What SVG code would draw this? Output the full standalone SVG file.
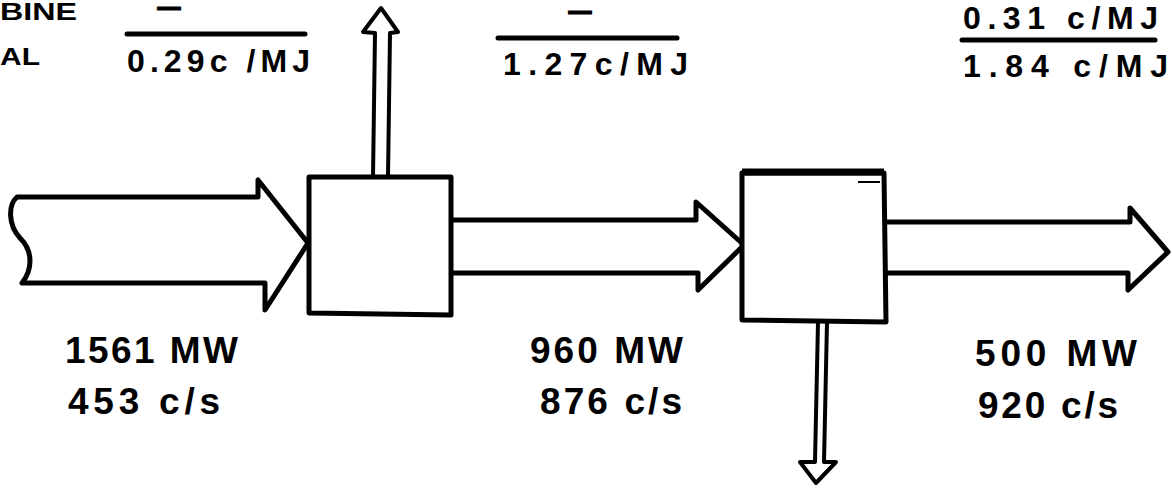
<svg xmlns="http://www.w3.org/2000/svg" width="1173" height="496" viewBox="0 0 1173 496">
  <style>
    .ln { fill: none; stroke: #000; stroke-width: 5; stroke-linejoin: round; stroke-linecap: round; }
    .thin { fill: none; stroke: #000; stroke-width: 4; stroke-linejoin: round; stroke-linecap: round; }
    .box { fill: #fff; stroke: #000; stroke-width: 5; stroke-linejoin: round; }
    .t { font-family: "Liberation Sans", Arial, sans-serif; fill: #000; font-size: 32px; font-weight: bold; }
    .big { font-size: 37px; }
    .hdr { font-size: 23px; }
    .dash { font-size: 14px; stroke: #000; stroke-width: 2.5; }
  </style>
  <rect width="1173" height="496" fill="#fff"/>

  <g id="connectors">
    <!-- input arrow with wavy tail -->
    <path id="in-arrow" class="ln" d="M 22 283 L 265 283 L 265 310 L 308 243 L 258 180 L 258 197 L 17 197 C 8 205 8 225 20 238 C 34 252 32 270 22 283 Z"/>
    <!-- up arrow from box1 -->
    <path id="up-arrow" class="thin" d="M 373 177 L 375 33 L 363 32 L 381 8 L 398 32 L 390 33 L 388 177"/>
    <!-- middle arrow box1 -> box2 -->
    <path id="mid-arrow" class="ln" d="M 451 220 L 696 220 L 696 202 L 744 245 L 698 290 L 698 273 L 451 273"/>
    <!-- output arrow -->
    <path id="out-arrow" class="ln" d="M 886 222 L 1130 222 L 1130 208 L 1168 252 L 1128 290 L 1128 273 L 886 273"/>
    <!-- down arrow from box2 -->
    <path id="down-arrow" class="thin" d="M 818 322 L 815 462 L 800 462 L 816 483 L 836 462 L 824 462 L 827 322"/>
  </g>

  <g id="box1">
    <path class="box" d="M 309 177 L 451 177 L 451 315 L 309 313 Z"/>
  </g>

  <g id="box2">
    <path class="box" d="M 742 173 L 884 173 L 886 322 L 742 320 Z"/>
    <line x1="742" y1="172" x2="884" y2="172" stroke="#000" stroke-width="7"/>
    <line x1="858" y1="182" x2="880" y2="182" stroke="#000" stroke-width="2"/>
  </g>

  <g id="labels">
    <text class="t hdr" x="0" y="20" textLength="77" lengthAdjust="spacingAndGlyphs">BINE</text>
    <text class="t hdr" x="0" y="65" textLength="40" lengthAdjust="spacingAndGlyphs">AL</text>

    <text class="t dash" x="159" y="13" textLength="20" lengthAdjust="spacingAndGlyphs">–</text>
    <line class="ln" x1="127" y1="34" x2="305" y2="34"/>
    <text class="t" x="127" y="72" textLength="183" lengthAdjust="spacing">0.29c /MJ</text>

    <text class="t dash" x="570" y="17" textLength="20" lengthAdjust="spacingAndGlyphs">–</text>
    <line class="ln" x1="498" y1="38" x2="677" y2="38"/>
    <text class="t" x="503" y="75" textLength="185" lengthAdjust="spacing">1.27c/MJ</text>

    <text class="t" x="963" y="29" textLength="195" lengthAdjust="spacing">0.31 c/MJ</text>
    <line class="ln" x1="962" y1="40" x2="1155" y2="40"/>
    <text class="t" x="963" y="77" textLength="205" lengthAdjust="spacing">1.84 c/MJ</text>

    <text class="t big" x="65" y="363" textLength="173" lengthAdjust="spacing">1561 MW</text>
    <text class="t big" x="68" y="414" textLength="152" lengthAdjust="spacing">453 c/s</text>

    <text class="t big" x="530" y="363" textLength="153" lengthAdjust="spacing">960 MW</text>
    <text class="t big" x="540" y="414" textLength="142" lengthAdjust="spacing">876 c/s</text>

    <text class="t big" x="975" y="366" textLength="162" lengthAdjust="spacing">500 MW</text>
    <text class="t big" x="978" y="418" textLength="140" lengthAdjust="spacing">920 c/s</text>
  </g>
</svg>
